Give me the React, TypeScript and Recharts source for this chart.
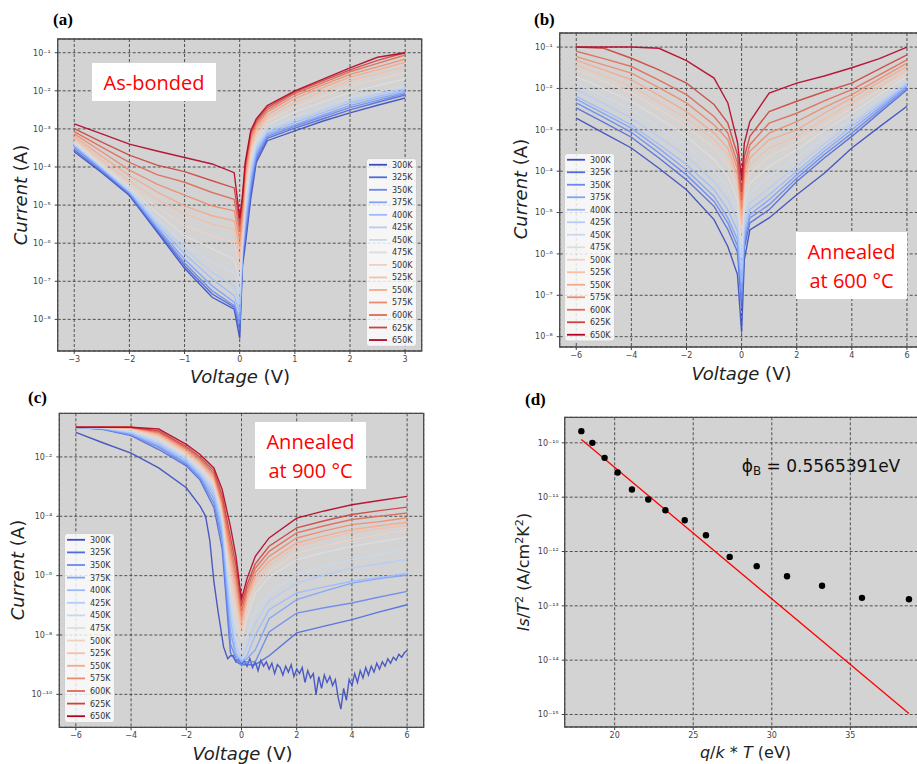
import React from "react"
import {
  LineChart,
  Line,
  XAxis,
  YAxis,
  CartesianGrid,
  ReferenceArea,
  ComposedChart,
  Scatter
} from "recharts"

const temps = ["300K", "325K", "350K", "375K", "400K", "425K", "450K", "475K", "500K", "525K", "550K", "575K", "600K", "625K", "650K"]

// coolwarm colour map, 300K -> 650K
const tempColors = ["#3b4cc0", "#506cda", "#6889ee", "#80a3fa", "#9abbff", "#b2ccfb", "#c9d8f0", "#dddddd", "#eed1c2", "#f6bfa6", "#f7a889", "#f08a6d", "#e26954", "#ce433b", "#b40426"]

// ---- (a) as-bonded: log10(I), one row per temperature
const voltsA = [-3, -2.5, -2, -1.5, -1, -0.5, -0.1, 0, 0.05, 0.1, 0.2, 0.3, 0.5, 1, 1.5, 2, 2.5, 3]
const logA = [
  [-3.6, -4.15, -4.75, -5.7, -6.66, -7.42, -7.73, -8.5, -6.6, -6.07, -4.84, -3.88, -3.31, -3.05, -2.8, -2.58, -2.38, -2.19],
  [-3.55, -4.12, -4.73, -5.66, -6.59, -7.33, -7.68, -8.3, -6.5, -5.9, -4.7, -3.8, -3.25, -2.98, -2.74, -2.5, -2.3, -2.11],
  [-3.49, -4.08, -4.69, -5.62, -6.52, -7.25, -7.64, -8.1, -6.4, -5.75, -4.55, -3.72, -3.2, -2.93, -2.68, -2.44, -2.25, -2.07],
  [-3.46, -4.06, -4.67, -5.58, -6.42, -7.12, -7.55, -8.0, -6.3, -5.6, -4.4, -3.64, -3.15, -2.89, -2.64, -2.39, -2.2, -2.04],
  [-3.42, -4.03, -4.65, -5.52, -6.28, -6.94, -7.38, -7.8, -6.2, -5.45, -4.25, -3.56, -3.1, -2.83, -2.58, -2.32, -2.15, -2.0],
  [-3.41, -4.01, -4.62, -5.45, -6.15, -6.77, -7.12, -7.6, -6.1, -5.3, -4.1, -3.48, -3.05, -2.77, -2.52, -2.26, -2.09, -1.94],
  [-3.38, -3.98, -4.6, -5.35, -6.02, -6.5, -6.77, -7.3, -6.0, -5.1, -3.95, -3.4, -2.98, -2.67, -2.42, -2.17, -2.02, -1.87],
  [-3.35, -3.95, -4.54, -5.2, -5.8, -6.15, -6.42, -7.0, -5.9, -4.9, -3.8, -3.3, -2.9, -2.55, -2.3, -2.04, -1.86, -1.69],
  [-3.31, -3.92, -4.49, -5.05, -5.54, -5.8, -5.98, -6.7, -5.75, -4.7, -3.65, -3.2, -2.8, -2.43, -2.15, -1.87, -1.7, -1.52],
  [-3.25, -3.82, -4.36, -4.85, -5.23, -5.5, -5.63, -6.4, -5.6, -4.5, -3.5, -3.1, -2.72, -2.3, -2.02, -1.73, -1.55, -1.38],
  [-3.2, -3.72, -4.23, -4.65, -5.02, -5.28, -5.41, -6.1, -5.4, -4.35, -3.38, -3.0, -2.64, -2.2, -1.92, -1.64, -1.45, -1.25],
  [-3.13, -3.6, -4.08, -4.45, -4.74, -5.02, -5.15, -5.9, -5.2, -4.2, -3.27, -2.92, -2.56, -2.13, -1.85, -1.57, -1.37, -1.17],
  [-3.07, -3.48, -3.88, -4.2, -4.4, -4.67, -4.85, -5.7, -5.0, -4.05, -3.17, -2.85, -2.5, -2.07, -1.79, -1.5, -1.28, -1.06],
  [-2.99, -3.35, -3.69, -3.95, -4.12, -4.36, -4.55, -5.5, -4.85, -3.95, -3.1, -2.79, -2.44, -2.03, -1.74, -1.45, -1.2, -1.0],
  [-2.87, -3.13, -3.4, -3.58, -3.75, -3.92, -4.15, -5.35, -4.75, -3.88, -3.05, -2.74, -2.39, -2.0, -1.7, -1.4, -1.12, -1.0]
]

// ---- (b) annealed at 600 °C
const voltsB = [-6, -5, -4, -3, -2, -1, -0.5, -0.15, 0, 0.1, 0.3, 1, 2, 3, 4, 5, 6]
const logB = [
  [-2.72, -3.08, -3.44, -3.93, -4.45, -5.17, -5.82, -6.5, -7.9, -6.14, -5.42, -5.13, -4.57, -4.05, -3.44, -2.93, -2.43],
  [-2.47, -2.82, -3.18, -3.68, -4.21, -4.85, -5.41, -5.95, -7.3, -5.85, -5.25, -4.93, -4.25, -3.68, -3.16, -2.59, -2.03],
  [-2.35, -2.7, -3.06, -3.56, -4.09, -4.73, -5.25, -5.8, -7.1, -5.72, -5.13, -4.81, -4.17, -3.6, -3.08, -2.53, -1.99],
  [-2.26, -2.61, -2.96, -3.45, -3.97, -4.61, -5.13, -5.65, -6.9, -5.6, -5.05, -4.69, -4.09, -3.52, -3.0, -2.47, -1.95],
  [-2.19, -2.53, -2.88, -3.35, -3.84, -4.45, -4.93, -5.45, -6.7, -5.45, -4.93, -4.57, -4.0, -3.44, -2.92, -2.41, -1.91],
  [-2.03, -2.37, -2.72, -3.17, -3.64, -4.25, -4.69, -5.2, -6.4, -5.25, -4.77, -4.41, -3.88, -3.34, -2.84, -2.35, -1.87],
  [-1.87, -2.19, -2.51, -2.94, -3.4, -3.97, -4.41, -4.95, -6.1, -5.0, -4.53, -4.13, -3.68, -3.18, -2.72, -2.25, -1.79],
  [-1.71, -2.01, -2.31, -2.72, -3.16, -3.72, -4.13, -4.7, -5.8, -4.75, -4.29, -3.88, -3.48, -3.02, -2.6, -2.15, -1.71],
  [-1.55, -1.83, -2.11, -2.5, -2.92, -3.44, -3.84, -4.45, -5.5, -4.5, -4.05, -3.64, -3.32, -2.88, -2.47, -2.05, -1.63],
  [-1.43, -1.69, -1.95, -2.33, -2.72, -3.24, -3.6, -4.25, -5.3, -4.3, -3.84, -3.44, -3.16, -2.74, -2.35, -1.95, -1.55],
  [-1.32, -1.55, -1.79, -2.17, -2.56, -3.08, -3.44, -4.1, -5.1, -4.15, -3.68, -3.24, -3.0, -2.6, -2.23, -1.85, -1.47],
  [-1.23, -1.43, -1.63, -1.98, -2.35, -2.88, -3.24, -3.95, -4.9, -4.0, -3.52, -3.08, -2.8, -2.46, -2.15, -1.77, -1.39],
  [-1.1, -1.28, -1.47, -1.8, -2.15, -2.68, -3.08, -3.8, -4.7, -3.85, -3.36, -2.84, -2.6, -2.3, -2.03, -1.67, -1.31],
  [-1.0, -1.03, -1.27, -1.55, -1.87, -2.39, -2.84, -3.6, -4.5, -3.65, -3.16, -2.56, -2.31, -2.08, -1.87, -1.53, -1.19],
  [-1.0, -1.0, -1.0, -1.03, -1.33, -1.75, -2.35, -3.3, -4.2, -3.32, -2.8, -2.11, -1.87, -1.7, -1.5, -1.28, -1.0]
]

// ---- (c) annealed at 900 °C, 325K..650K
const voltsC = [-6, -5, -4, -3, -2, -1.5, -1, -0.7, -0.4, -0.2, 0, 0.2, 0.5, 1, 2, 3, 4, 5, 6]
const logC = [
  [-1.0, -1.08, -1.28, -1.75, -2.3, -2.78, -3.7, -5.1, -8.6, -8.9, -9.0, -9.0, -9.0, -8.7, -7.93, -7.7, -7.48, -7.22, -6.98],
  [-1.0, -1.06, -1.26, -1.68, -2.25, -2.72, -3.55, -4.8, -8.3, -8.8, -9.0, -8.9, -8.9, -7.9, -7.26, -7.08, -6.92, -6.72, -6.53],
  [-1.0, -1.05, -1.24, -1.64, -2.2, -2.66, -3.4, -4.6, -7.9, -8.7, -8.9, -8.8, -8.5, -7.45, -6.81, -6.52, -6.25, -6.1, -5.98],
  [-1.0, -1.04, -1.2, -1.58, -2.14, -2.6, -3.25, -4.4, -7.5, -8.6, -8.9, -8.7, -8.0, -7.15, -6.58, -6.38, -6.19, -6.06, -5.93],
  [-1.0, -1.03, -1.17, -1.53, -2.08, -2.54, -3.12, -4.25, -7.1, -8.4, -8.8, -8.4, -7.6, -6.85, -6.25, -5.98, -5.74, -5.6, -5.45],
  [-1.0, -1.02, -1.14, -1.47, -2.02, -2.46, -3.0, -4.1, -6.8, -8.1, -8.6, -8.0, -7.2, -6.6, -5.97, -5.7, -5.46, -5.28, -5.1],
  [-1.0, -1.0, -1.09, -1.4, -1.96, -2.38, -2.92, -3.95, -6.4, -7.6, -8.2, -7.4, -6.6, -6.05, -5.46, -5.22, -5.01, -4.86, -4.7],
  [-1.0, -1.0, -1.06, -1.34, -1.9, -2.3, -2.85, -3.85, -6.0, -7.2, -8.0, -7.1, -6.4, -5.87, -5.24, -5.0, -4.79, -4.62, -4.45],
  [-1.0, -1.0, -1.04, -1.29, -1.85, -2.24, -2.78, -3.75, -5.7, -6.8, -7.8, -6.9, -6.2, -5.65, -5.01, -4.76, -4.54, -4.42, -4.3],
  [-1.0, -1.0, -1.02, -1.24, -1.8, -2.18, -2.7, -3.65, -5.45, -6.5, -7.6, -6.75, -6.05, -5.52, -4.9, -4.66, -4.45, -4.32, -4.2],
  [-1.0, -1.0, -1.01, -1.2, -1.75, -2.12, -2.62, -3.55, -5.2, -6.2, -7.4, -6.6, -5.9, -5.35, -4.73, -4.49, -4.28, -4.18, -4.05],
  [-1.0, -1.0, -1.0, -1.16, -1.7, -2.06, -2.55, -3.45, -4.95, -5.95, -7.2, -6.45, -5.75, -5.18, -4.56, -4.32, -4.11, -4.0, -3.89],
  [-1.0, -1.0, -1.0, -1.12, -1.65, -2.0, -2.47, -3.3, -4.7, -5.65, -7.0, -6.3, -5.6, -5.01, -4.39, -4.15, -3.94, -3.81, -3.69],
  [-1.0, -1.0, -1.0, -1.06, -1.58, -1.92, -2.37, -3.1, -4.35, -5.35, -6.8, -6.1, -5.35, -4.73, -4.06, -3.82, -3.61, -3.47, -3.33]
]

// (c) 300K, which sits on the noise floor for V > -0.5
const voltsC300 = [-6, -5, -4, -3, -2, -1.5, -1.3, -1.15, -1, -0.85, -0.65, -0.5, -0.4,
  -0.3, -0.2, -0.1, 0, 0.1, 0.2, 0.3, 0.4, 0.5, 0.6, 0.7, 0.8, 0.9, 1, 1.1, 1.2, 1.3, 1.4, 1.5, 1.6, 1.7, 1.8, 1.9,
  2, 2.1, 2.2, 2.3, 2.4, 2.5, 2.6, 2.7, 2.8, 2.9, 3, 3.1, 3.2, 3.3, 3.4, 3.5, 3.6, 3.7, 3.8, 3.9,
  4, 4.1, 4.2, 4.3, 4.4, 4.5, 4.6, 4.7, 4.8, 4.9, 5, 5.1, 5.2, 5.3, 5.4, 5.5, 5.6, 5.7, 5.8, 5.9, 6]
const logC300 = [-1.17, -1.53, -1.87, -2.37, -3.04, -3.66, -4.0, -4.8, -6.2, -7.2, -8.4, -8.8, -8.7,
  -8.7, -8.9, -8.8, -9.0, -8.85, -9.05, -8.8, -9.1, -8.9, -9.2, -8.85, -9.05, -8.9, -9.15, -8.95, -9.3, -9.0, -9.1, -9.35, -9.05, -9.25, -9.0, -9.4,
  -9.15, -9.3, -9.1, -9.6, -9.2, -9.45, -9.3, -10.0, -9.4, -9.8, -9.35, -9.6, -9.4, -9.7, -9.5, -10.1, -10.5, -9.8, -10.2, -9.5,
  -9.7, -9.3, -9.6, -9.2, -9.45, -9.1, -9.35, -9.05, -9.25, -8.95, -9.15, -8.9, -9.05, -8.8, -8.95, -8.75, -8.85, -8.65, -8.75, -8.6, -8.52]

// ---- (d) Richardson plot
const qkT = [17.88, 18.58, 19.36, 20.19, 21.1, 22.14, 23.23, 24.46, 25.81, 27.32, 29.04, 30.97, 33.2, 35.74, 38.73]
const logIsT2 = [-9.785, -10.0, -10.276, -10.546, -10.859, -11.043, -11.24, -11.424, -11.7, -12.099, -12.27, -12.455, -12.63, -12.853, -12.878]
const fitX = [17.88, 38.73]
const fitLog = [-9.939, -14.983]

const ticksA = [1e-8, 1e-7, 1e-6, 1e-5, 1e-4, 1e-3, 1e-2, 1e-1]
const ticksC = [1e-10, 1e-8, 1e-6, 1e-4, 1e-2]
const ticksD = [1e-15, 1e-14, 1e-13, 1e-12, 1e-11, 1e-10]

const supMap: Record<string, string> = { "-": "⁻", "0": "⁰", "1": "¹", "2": "²", "3": "³", "4": "⁴", "5": "⁵", "6": "⁶", "7": "⁷", "8": "⁸", "9": "⁹" }
const fmtPow = (v: number) =>
  "10" + String(Math.round(Math.log10(v))).split("").map((c) => supMap[c]).join("")
const fmtNum = (v: number) => (v < 0 ? "−" + Math.abs(v) : String(v))

const rows = (volts: number[], exps: number[]) => volts.map((v, k) => ({ v, i: 10 ** exps[k] }))

const tickStyle = { fontSize: 8, fill: "#444", fontFamily: "DejaVu Sans" }
const FONT = "DejaVu Sans"

interface Curve {
  name: string
  color: string
  data: { v: number; i: number }[]
}

interface PlotBox {
  l: number
  t: number
  r: number
  b: number
}

function IVChart({ left, top, width, height, plot, xDomain, xTicks, yDomain, yTicks, curves }: {
  left: number
  top: number
  width: number
  height: number
  plot: PlotBox
  xDomain: [number, number]
  xTicks: number[]
  yDomain: [number, number]
  yTicks: number[]
  curves: Curve[]
}) {
  const margin = {
    top: plot.t - top,
    left: plot.l - left - 40,
    right: left + width - plot.r,
    bottom: top + height - plot.b - 20
  }
  return (
    <div style={{ position: "absolute", left, top }}>
      <LineChart width={width} height={height} margin={margin}>
        <CartesianGrid fill="#d3d3d3" stroke="#3a3a3a" strokeDasharray="3 2" strokeOpacity={0.85} />
        <XAxis type="number" dataKey="v" domain={xDomain} ticks={xTicks} allowDataOverflow height={20}
          tickSize={3} tickFormatter={fmtNum} tick={tickStyle} axisLine={false} tickLine={{ stroke: "#444" }} />
        <YAxis type="number" scale="log" domain={yDomain} ticks={yTicks} allowDataOverflow width={40}
          tickSize={3} tickMargin={4} tickFormatter={fmtPow} tick={tickStyle} axisLine={false} tickLine={{ stroke: "#444" }} />
        {curves.map((c) => (
          <Line key={c.name} data={c.data} dataKey="i" stroke={c.color} strokeWidth={1.4} strokeOpacity={0.9}
            dot={false} isAnimationActive={false} />
        ))}
        <ReferenceArea x1={xDomain[0]} x2={xDomain[1]} y1={yDomain[0]} y2={yDomain[1]} fill="none"
          fillOpacity={0} stroke="#4a4a4a" strokeWidth={1.3} ifOverflow="visible" />
      </LineChart>
    </div>
  )
}

function TempLegend({ left, top, rowH }: { left: number; top: number; rowH: number }) {
  const h = rowH * temps.length
  return (
    <svg style={{ position: "absolute", left, top }} width={51} height={h + 1}>
      <rect x={0.5} y={0.5} width={50} height={h} rx={3} fill="#fff" fillOpacity={0.8} stroke="#cfcfcf" />
      {temps.map((t, k) => {
        const y = rowH * (k + 0.5) + 0.5
        return (
          <g key={t}>
            <line x1={3} x2={21} y1={y} y2={y} stroke={tempColors[k]} strokeWidth={1.8} />
            <text x={26} y={y + 3} fontSize={8} fill="#333" fontFamily={FONT}>{t}</text>
          </g>
        )
      })}
    </svg>
  )
}

function Note({ left, top, width, height, lines }: { left: number; top: number; width: number; height: number; lines: string[] }) {
  return (
    <div style={{
      position: "absolute", left, top, width, height, background: "#fff", color: "#ff0000",
      fontFamily: "Open Sans", fontSize: 20, lineHeight: "29px", display: "flex", flexDirection: "column",
      alignItems: "center", justifyContent: "center"
    }}>
      {lines.map((l) => <div key={l}>{l}</div>)}
    </div>
  )
}

function PanelTag({ left, top, text }: { left: number; top: number; text: string }) {
  return (
    <div style={{ position: "absolute", left, top, fontFamily: "Liberation Serif", fontWeight: "bold", fontSize: 17, lineHeight: "17px" }}>
      {text}
    </div>
  )
}

function AxisText({ x, y, rotate, size, children }: { x: number; y: number; rotate?: boolean; size: number; children: React.ReactNode }) {
  return (
    <div style={{
      position: "absolute", left: x, top: y, whiteSpace: "nowrap", fontFamily: FONT, fontSize: size, color: "#222",
      transform: `translate(-50%, -50%)${rotate ? " rotate(-90deg)" : ""}`
    }}>
      {children}
    </div>
  )
}

const sup = (s: string) => <span style={{ fontSize: "0.7em", verticalAlign: "0.55em" }}>{s}</span>

const curvesA: Curve[] = temps.map((t, k) => ({ name: t, color: tempColors[k], data: rows(voltsA, logA[k]) }))
const curvesB: Curve[] = temps.map((t, k) => ({ name: t, color: tempColors[k], data: rows(voltsB, logB[k]) }))
const curvesC: Curve[] = temps.map((t, k) => ({
  name: t,
  color: tempColors[k],
  data: k === 0 ? rows(voltsC300, logC300) : rows(voltsC, logC[k - 1])
}))

const dotsD = qkT.map((x, k) => ({ x, y: 10 ** logIsT2[k] }))
const fitD = fitX.map((x, k) => ({ x, y: 10 ** fitLog[k] }))

function RichardsonChart() {
  const left = 460
  const top = 385
  const width = 480
  const height = 379
  const plot = { l: 564.7, t: 417.3, r: 928.9, b: 727 }
  const xDomain: [number, number] = [16.82, 40]
  const yDomain: [number, number] = [10 ** -15.23, 10 ** -9.53]
  return (
    <div style={{ position: "absolute", left, top }}>
      <ComposedChart width={width} height={height}
        margin={{ top: plot.t - top, left: plot.l - left - 40, right: left + width - plot.r, bottom: top + height - plot.b - 20 }}>
        <CartesianGrid fill="#d3d3d3" stroke="#3a3a3a" strokeDasharray="3 2" strokeOpacity={0.85} />
        <XAxis type="number" dataKey="x" domain={xDomain} ticks={[20, 25, 30, 35]} allowDataOverflow height={20}
          tickSize={3} tick={tickStyle} axisLine={false} tickLine={{ stroke: "#444" }} />
        <YAxis type="number" dataKey="y" scale="log" domain={yDomain} ticks={ticksD} allowDataOverflow width={40}
          tickSize={3} tickMargin={3} tickFormatter={fmtPow} tick={tickStyle} axisLine={false} tickLine={{ stroke: "#444" }} />
        <Line data={fitD} dataKey="y" stroke="#ff0000" strokeWidth={1.3} dot={false} isAnimationActive={false} />
        <Scatter data={dotsD} dataKey="y" fill="#000" isAnimationActive={false}
          shape={(p: any) => <circle cx={p.cx} cy={p.cy} r={3.2} fill="#000" />} />
        <ReferenceArea x1={xDomain[0]} x2={xDomain[1]} y1={yDomain[0]} y2={yDomain[1]} fill="none"
          fillOpacity={0} stroke="#4a4a4a" strokeWidth={1.3} ifOverflow="visible" />
      </ComposedChart>
    </div>
  )
}

export default function App() {
  return (
    <div style={{ position: "absolute", left: 0, top: 0, width: 917, height: 764, overflow: "hidden", background: "#fff", fontFamily: FONT }}>
      {/* (a) */}
      <IVChart left={0} top={0} width={460} height={390} plot={{ l: 57.7, t: 39, r: 421.7, b: 351 }}
        xDomain={[-3.3, 3.3]} xTicks={[-3, -2, -1, 0, 1, 2, 3]} yDomain={[10 ** -8.83, 10 ** -0.64]}
        yTicks={ticksA} curves={curvesA} />
      {/* (b) */}
      <IVChart left={460} top={0} width={480} height={390} plot={{ l: 559.7, t: 33, r: 923.5, b: 347 }}
        xDomain={[-6.6, 6.6]} xTicks={[-6, -4, -2, 0, 2, 4, 6]} yDomain={[10 ** -8.25, 10 ** -0.66]}
        yTicks={ticksA} curves={curvesB} />
      {/* (c) */}
      <IVChart left={0} top={385} width={460} height={379} plot={{ l: 59.3, t: 413.3, r: 423.7, b: 727.3 }}
        xDomain={[-6.6, 6.6]} xTicks={[-6, -4, -2, 0, 2, 4, 6]} yDomain={[10 ** -11.11, 10 ** -0.53]}
        yTicks={ticksC} curves={curvesC} />
      {/* (d) */}
      <RichardsonChart />

      <TempLegend left={366} top={158} rowH={12.52} />
      <TempLegend left={564} top={153} rowH={12.5} />
      <TempLegend left={64} top={532.5} rowH={12.6} />

      <Note left={92} top={63} width={124} height={38} lines={["As-bonded"]} />
      <Note left={796} top={232} width={111} height={67} lines={["Annealed", "at 600 °C"]} />
      <Note left={255} top={422} width={111} height={67} lines={["Annealed", "at 900 °C"]} />

      <PanelTag left={53} top={11} text="(a)" />
      <PanelTag left={534} top={11} text="(b)" />
      <PanelTag left={28} top={389} text="(c)" />
      <PanelTag left={525} top={391} text="(d)" />

      <AxisText x={19.5} y={195} rotate size={18}><i>Current</i> (A)</AxisText>
      <AxisText x={240} y={376} size={18}><i>Voltage</i> (V)</AxisText>
      <AxisText x={520} y={189} rotate size={18}><i>Current</i> (A)</AxisText>
      <AxisText x={741.5} y={373} size={18}><i>Voltage</i> (V)</AxisText>
      <AxisText x={16.5} y={570} rotate size={18}><i>Current</i> (A)</AxisText>
      <AxisText x={242.5} y={753} size={18}><i>Voltage</i> (V)</AxisText>
      <AxisText x={523} y={572} rotate size={16}><i>Is</i>/<i>T</i>{sup("2")} (A/cm{sup("2")}K{sup("2")})</AxisText>
      <AxisText x={745.5} y={752} size={16}><i>q</i>/<i>k</i> * <i>T</i> (eV)</AxisText>
      <AxisText x={821} y={467} size={17}>
        <span style={{ color: "#111" }}>ϕ<span style={{ fontSize: "0.7em", verticalAlign: "-0.25em" }}>B</span> = 0.5565391eV</span>
      </AxisText>
    </div>
  )
}
